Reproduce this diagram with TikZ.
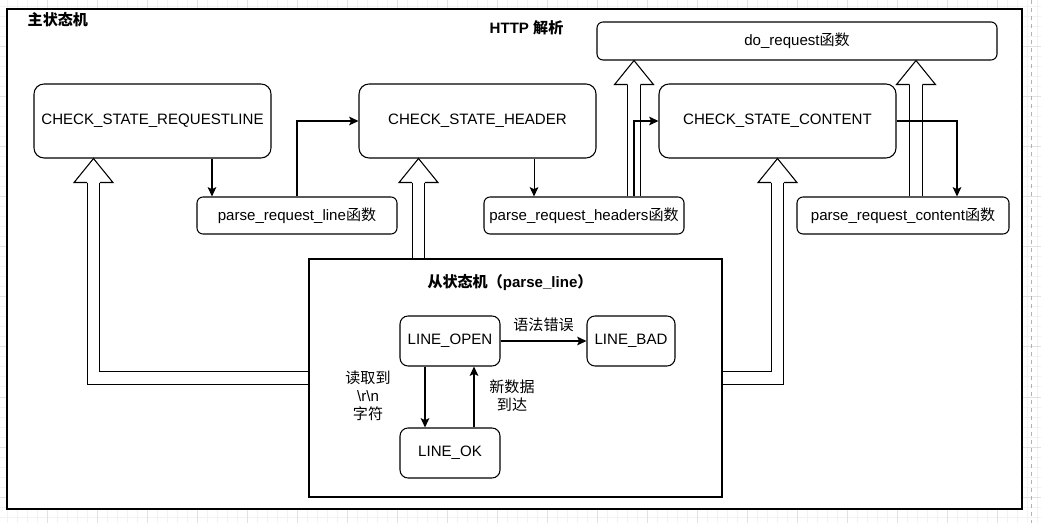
\documentclass[tikz,border=0pt]{standalone}
\usepackage{fontspec}
\setmainfont{Liberation Sans}
\newfontfamily\cjk{Noto Sans CJK SC}
\usetikzlibrary{arrows.meta,positioning,calc}
\tikzset{>={Stealth[length=7pt,width=6.5pt,inset=1.5pt]}}
\definecolor{gridminor}{RGB}{243,243,243}
\definecolor{gridmajor}{RGB}{226,226,226}
\tikzset{
  txt/.style={font=\fontsize{11.3}{13}\selectfont},
  state/.style={draw, line width=0.8pt, rounded corners=7.5pt, minimum width=177.75pt, minimum height=55.5pt, txt},
  func/.style={draw, line width=0.8pt, rounded corners=4.5pt, minimum width=150pt, minimum height=27.75pt, txt},
  linestate/.style={draw, line width=0.8pt, rounded corners=6pt, minimum width=75pt, minimum height=37.5pt, txt},
  frame/.style={draw, line width=1pt, fill=white},
  hollow/.style={draw, line width=0.8pt, double=white, double distance=8.7pt, line join=miter},
  link/.style={->, line width=0.8pt},
  lbl/.style={font=\cjk\fontsize{11.3}{13.5}\selectfont, align=center},
  title/.style={font=\bfseries\fontsize{11.3}{13}\selectfont}
}
% open head of a hollow arrow, tip at #1
\newcommand{\openhead}[1]{\draw[line width=0.8pt, fill=white, line join=miter] (#1) ++(-4.75pt,-18pt) -- ++(-9.85pt,0pt) -- (#1) -- ++(14.6pt,-18pt) -- ++(-9.85pt,0pt);}

\begin{document}
\begin{tikzpicture}[x=0.75pt, y=-0.75pt]
\useasboundingbox (0,0) rectangle (1041,523);
% canvas grid
\foreach \g in {-3,7,...,1043}
\draw[gridminor, line width=0.75pt] (\g,0) -- (\g,523);
\foreach \g in {-3,7,...,523}
\draw[gridminor, line width=0.75pt] (0,\g) -- (1041,\g);
\foreach \g in {47,97,...,1043}
\draw[gridmajor, line width=0.75pt] (\g,0) -- (\g,523);
\foreach \g in {47,97,...,523}
\draw[gridmajor, line width=0.75pt] (0,\g) -- (1041,\g);
\draw[gray!60, dashed, line width=0.75pt] (1031,0) -- (1031,523);

% main state machine
\node[frame, minimum width=761.25pt, minimum height=375pt] (mainfsm) at (514.5,259) {};
\node[title, font=\cjk\bfseries\fontsize{11.3}{13}\selectfont, anchor=west] (maintitle) at (23,20) {主状态机};
\node[title] (httptitle) at (526.5,28) {HTTP {\cjk 解析}};

\node[state] (reqline) at (152.5,121) {CHECK\_STATE\_REQUESTLINE};
\node[state] (header) at (477.5,121) {CHECK\_STATE\_HEADER};
\node[state] (content) at (777.5,121) {CHECK\_STATE\_CONTENT};
\node[func, minimum width=300pt, minimum height=28.5pt] (doreq) at (797,41) {do\_request{\cjk 函数}};
\node[func] (plline) at (297,215.5) {parse\_request\_line{\cjk 函数}};
\node[func] (plheaders) at (584,215.5) {parse\_request\_headers{\cjk 函数}};
\node[func, minimum width=159pt] (plcontent) at (903,215.5) {parse\_request\_content{\cjk 函数}};

% sub state machine
\node[frame, minimum width=309.75pt, minimum height=178.5pt] (sub) at (515.5,378) {};
\node[title] (subtitle) at (510,283) {{\cjk 从状态机（}parse\_line{\cjk ）}};
\node[linestate] (lopen) at (450,341) {LINE\_OPEN};
\node[linestate, minimum width=66pt] (lbad) at (631,341) {LINE\_BAD};
\node[linestate] (lok) at (450,453) {LINE\_OK};
\node[lbl] (readlbl) at (368,396) {读取到\\{\rmfamily\textbackslash r\textbackslash n}\\字符};
\node[lbl] (newlbl) at (512,396) {新数据\\到达};

% hollow arrows
\draw[hollow] (sub.west) -| ([xshift=-44.25pt,yshift=-18pt]reqline.south);
\openhead{[xshift=-44.25pt]reqline.south}
\draw[hollow] ([xshift=-44.25pt]header.south |- sub.north) -- ([xshift=-44.25pt,yshift=-18pt]header.south);
\openhead{[xshift=-44.25pt]header.south}
\draw[hollow] (sub.east) -| ([yshift=-18pt]content.south);
\openhead{content.south}
\draw[hollow] ([xshift=-122.25pt]doreq.south |- plheaders.north) -- ([xshift=-122.25pt,yshift=-18pt]doreq.south);
\openhead{[xshift=-122.25pt]doreq.south}
\draw[hollow] ([xshift=89.25pt]doreq.south |- plcontent.north) -- ([xshift=89.25pt,yshift=-18pt]doreq.south);
\openhead{[xshift=89.25pt]doreq.south}

% thin arrows
\draw[link] ([xshift=44.6pt]reqline.south) -- ([xshift=44.6pt]reqline.south |- plline.north);
\draw[link] (plline.north) |- (header.west);
\draw[link] ([xshift=42.4pt]header.south) -- ([xshift=42.4pt]header.south |- plheaders.north);
\draw[link] ([xshift=37.5pt]plheaders.north) |- (content.west);
\draw[link] (content.east) -| ([xshift=40.5pt]plcontent.north);
\draw[link] ([xshift=-18.75pt]lopen.south) -- ([xshift=-18.75pt]lok.north);
\draw[link] ([xshift=18pt]lok.north) -- ([xshift=18pt]lopen.south);
\draw[link] (lopen) -- node[lbl, above, yshift=3pt] {语法错误} (lbad);
\end{tikzpicture}
\end{document}
